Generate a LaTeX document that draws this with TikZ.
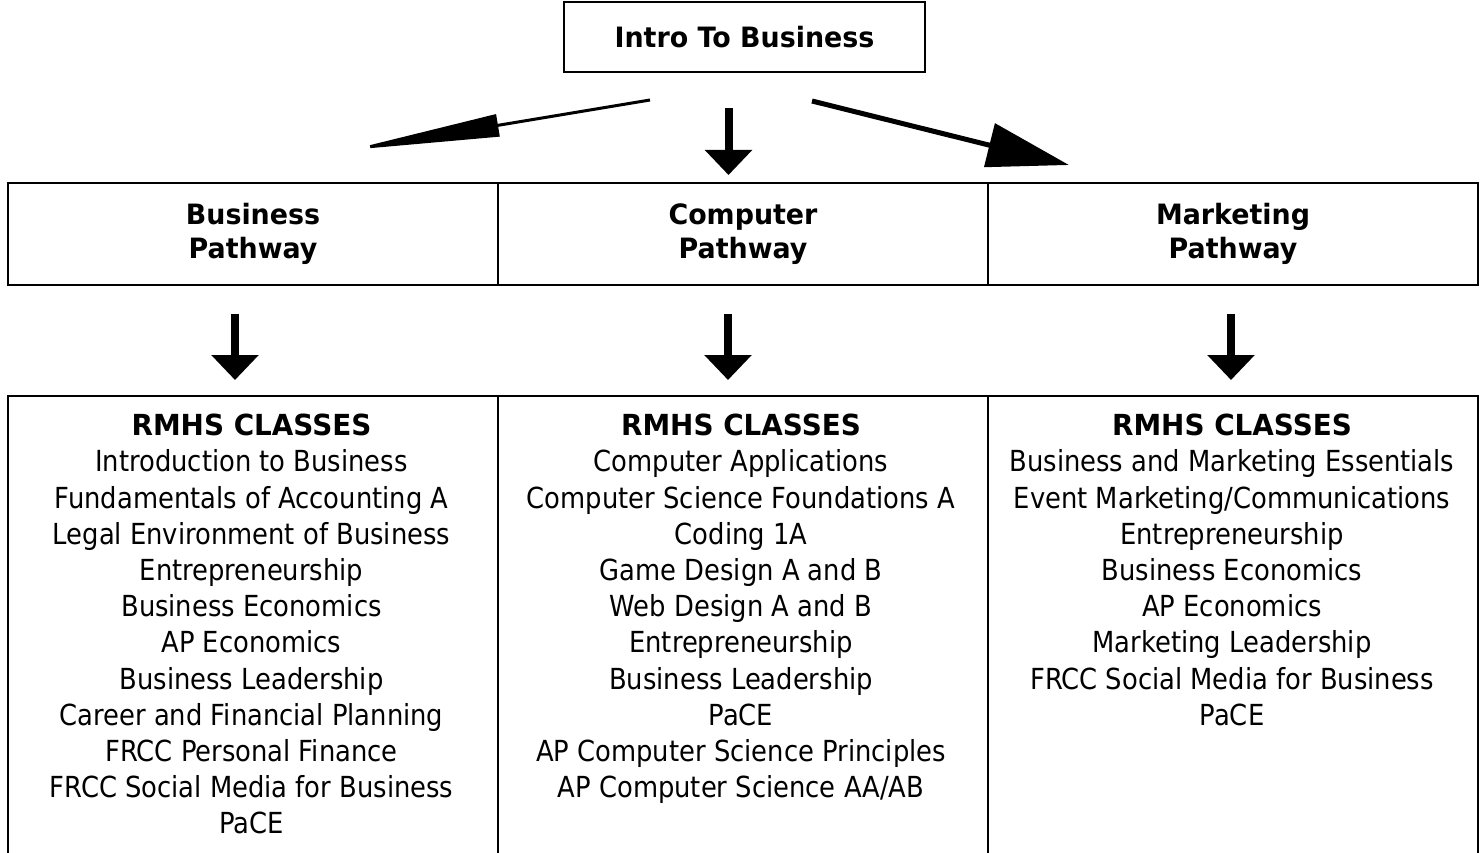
\documentclass[tikz,border=0pt]{standalone}
\usepackage{fontspec}
\setmainfont{DejaVu Sans}[UprightFeatures={FakeStretch=0.89}, BoldFeatures={FakeStretch=0.96}]
\usetikzlibrary{arrows.meta}
\tikzset{
  box/.style={draw=black, line width=2pt, rectangle, inner sep=0pt},
  ptext/.style={align=center, font=\fontsize{28}{34.5}\selectfont\bfseries},
  ctext/.style={align=center, anchor=north, inner sep=0pt, font=\fontsize{29}{36.2}\selectfont},
  downarrow/.style={line width=8pt, -{Triangle[length={25pt 0 0}, width={46pt 0 0}]}},
}
\begin{document}
\begin{tikzpicture}[x=1pt, y=-1pt]
\useasboundingbox (0,0) rectangle (1482,853);
% top box
\node[box, minimum width=361pt, minimum height=70pt, font=\fontsize{28}{34}\selectfont\bfseries] (intro) at (744.5,37) {Intro To Business};
% pathway boxes
\node[box, minimum width=490pt, minimum height=102pt] (bp) at (253,234) {};
\node[box, minimum width=490pt, minimum height=102pt] (cp) at (743,234) {};
\node[box, minimum width=490pt, minimum height=102pt] (mp) at (1233,234) {};
\node[ptext] (bpt) at (bp.center) {Business\\Pathway};
\node[ptext] (cpt) at (cp.center) {Computer\\Pathway};
\node[ptext] (mpt) at (mp.center) {Marketing\\Pathway};
% class boxes (open at the bottom edge of the picture)
\node[box, minimum width=490pt, minimum height=480pt, anchor=north] (bc) at (253,395) {};
\node[box, minimum width=490pt, minimum height=480pt, anchor=north] (cc) at (743,395) {};
\node[box, minimum width=490pt, minimum height=480pt, anchor=north] (mc) at (1233,395) {};
\node[ctext] (bct) at (251.5,414) {\textbf{RMHS CLASSES}\\Introduction to Business\\Fundamentals of Accounting A\\Legal Environment of Business\\Entrepreneurship\\Business Economics\\AP Economics\\Business Leadership\\Career and Financial Planning\\FRCC Personal Finance\\FRCC Social Media for Business\\PaCE};
\node[ctext] (cct) at (741,414) {\textbf{RMHS CLASSES}\\Computer Applications\\Computer Science Foundations A\\Coding 1A\\Game Design A and B\\Web Design A and B\\Entrepreneurship\\Business Leadership\\PaCE\\AP Computer Science Principles\\AP Computer Science AA/AB};
\node[ctext] (mct) at (1232,414) {\textbf{RMHS CLASSES}\\Business and Marketing Essentials\\Event Marketing/Communications\\Entrepreneurship\\Business Economics\\AP Economics\\Marketing Leadership\\FRCC Social Media for Business\\PaCE};
% arrow end points
\coordinate (lA) at (650,100);
\coordinate (lB) at (350,150);
\coordinate (mA) at (728.5,108);
\coordinate (mB) at (728.5,175);
\coordinate (rA) at (812,101);
\coordinate (rB) at (1069,165);
\coordinate (d1A) at (235,314);
\coordinate (d1B) at (235,380);
\coordinate (d2A) at (728,314);
\coordinate (d2B) at (728,380);
\coordinate (d3A) at (1231,314);
\coordinate (d3B) at (1231,380);
% arrows
\draw[line width=3pt, -{Triangle[length={150pt 0 0}, width={22pt 0 0}]}] (lA) -- (lB);
\draw[downarrow] (mA) -- (mB);
\draw[line width=5pt, -{Triangle[length={82pt 0 0}, width={44pt 0 0}]}] (rA) -- (rB);
\draw[downarrow] (d1A) -- (d1B);
\draw[downarrow] (d2A) -- (d2B);
\draw[downarrow] (d3A) -- (d3B);
\end{tikzpicture}
\end{document}
